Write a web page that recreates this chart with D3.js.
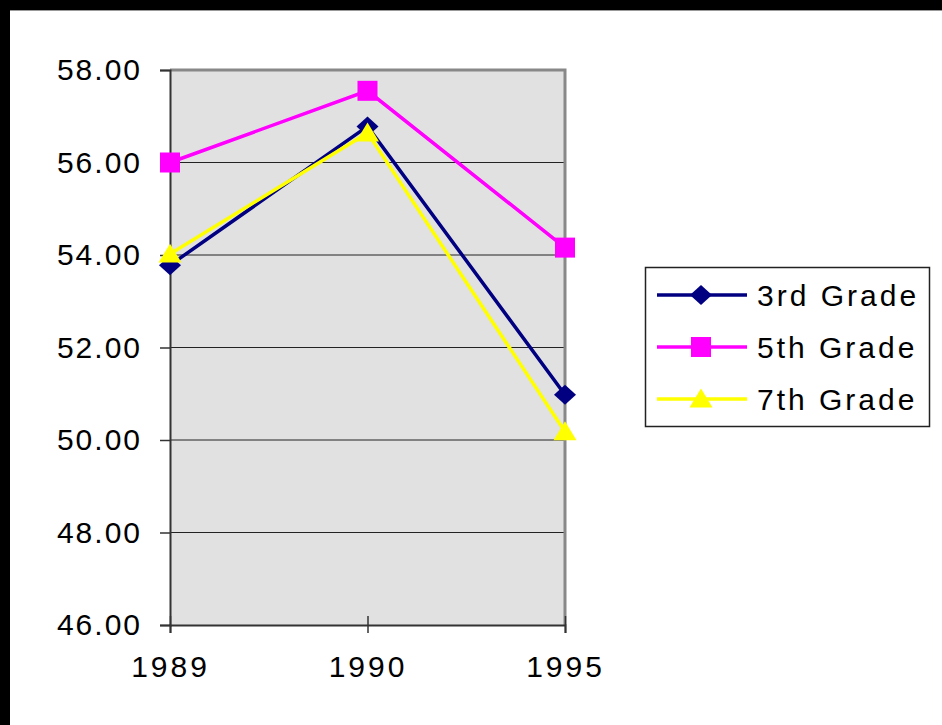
<!DOCTYPE html>
<html><head><meta charset="utf-8">
<script src="https://cdn.jsdelivr.net/npm/d3@7"></script>
<style>body{margin:0;background:#fff}svg{display:block}text{font-family:"Liberation Sans",Arial,sans-serif}</style>
</head><body><svg id="c" width="942" height="725"></svg>
<script>
const years = ["1989","1990","1995"];
const seriesNames = ["3rd Grade","5th Grade","7th Grade"];
const grade3 = [53.78, 56.78, 50.98];
const grade5 = [56.00, 57.55, 54.16];
const grade7 = [54.02, 56.64, 50.18];
const yTicks = [46,48,50,52,54,56,58];
const colors = ["#000080","#FF00FF","#FFFF00"];

const diamond = {draw(ctx, size){ const w=11,h=10; ctx.moveTo(0,-h); ctx.lineTo(w,0); ctx.lineTo(0,h); ctx.lineTo(-w,0); ctx.closePath(); }};
const square = {draw(ctx, size){ const s=10; ctx.moveTo(-s,-s); ctx.lineTo(s,-s); ctx.lineTo(s,s); ctx.lineTo(-s,s); ctx.closePath(); }};
const tri = {draw(ctx, size){ const w=11.5,h=19; ctx.moveTo(0,-h*0.55); ctx.lineTo(w,h*0.45); ctx.lineTo(-w,h*0.45); ctx.closePath(); }};
const shapes = [diamond, square, tri];

const svg = d3.select("#c");
svg.append("rect").attr("x",0).attr("y",0).attr("width",942).attr("height",10).attr("fill","#000");
svg.append("rect").attr("x",0).attr("y",0).attr("width",10).attr("height",725).attr("fill","#000");
svg.append("line").attr("x1",10).attr("x2",942).attr("y1",10.5).attr("y2",10.5).attr("stroke","#999").attr("stroke-width",1);

const L=170,R=565,T=70,B=625;
const x = d3.scalePoint().domain(years).range([L,R]).padding(0);
const y = d3.scaleLinear().domain([46,58]).range([B,T]);

svg.append("rect").attr("x",L).attr("y",T).attr("width",R-L).attr("height",B-T).attr("fill","#E1E1E1");
svg.append("g").selectAll("line").data(yTicks.filter(v=>v>46&&v<58)).join("line")
 .attr("x1",L).attr("x2",R).attr("y1",d=>y(d)).attr("y2",d=>y(d)).attr("stroke","#222").attr("stroke-width",1);
svg.append("path").attr("d",`M${L},${T}H${R}V${B}`).attr("fill","none").attr("stroke","#888").attr("stroke-width",3);

const FS = 30, LS = "3px";
const ya = svg.append("g").attr("transform",`translate(${L},0)`)
 .call(d3.axisLeft(y).tickValues(yTicks).tickFormat(d3.format(".2f")).tickSize(10).tickPadding(18));
ya.select(".domain").attr("stroke","#333").attr("stroke-width",2);
ya.selectAll(".tick line").attr("stroke","#333").attr("stroke-width",1.5);
ya.selectAll("text").attr("font-size",FS).attr("letter-spacing","2px").attr("fill","#000").attr("font-family","Liberation Sans, Arial, sans-serif");

const xa = svg.append("g").attr("transform",`translate(0,${B})`)
 .call(d3.axisBottom(x).tickSize(8).tickPadding(23));
xa.select(".domain").attr("stroke","#333").attr("stroke-width",2);
xa.selectAll(".tick line").attr("y1",-9).attr("stroke","#333").attr("stroke-width",1.5);
xa.selectAll("text").attr("font-size",FS).attr("letter-spacing",LS).attr("fill","#000").attr("font-family","Liberation Sans, Arial, sans-serif");

const data = [grade3, grade5, grade7];
const line = d3.line().x((d,i)=>x(years[i])).y(d=>y(d));
data.forEach((s,k)=>{
  svg.append("path").datum(s).attr("d",line).attr("fill","none").attr("stroke",colors[k]).attr("stroke-width",3.5);
});
data.forEach((s,k)=>{
  svg.append("g").selectAll("path").data(s).join("path")
   .attr("transform",(d,i)=>`translate(${x(years[i])},${y(d)})`)
   .attr("d",d3.symbol().type(shapes[k])).attr("fill",colors[k]);
});

const lg = svg.append("g");
lg.append("rect").attr("x",645.5).attr("y",267.5).attr("width",284).attr("height",159)
 .attr("fill","#fff").attr("stroke","#222").attr("stroke-width",1.5);
const rowsY = [295,347,399];
seriesNames.forEach((n,k)=>{
  lg.append("line").attr("x1",657).attr("x2",747).attr("y1",rowsY[k]).attr("y2",rowsY[k]).attr("stroke",colors[k]).attr("stroke-width",3.5);
  lg.append("path").attr("transform",`translate(701,${rowsY[k]})`).attr("d",d3.symbol().type(shapes[k])).attr("fill",colors[k]);
  lg.append("text").attr("x",757).attr("y",rowsY[k]).attr("dy","0.36em").attr("font-size",FS).attr("letter-spacing",LS).text(n);
});
</script></body></html>
